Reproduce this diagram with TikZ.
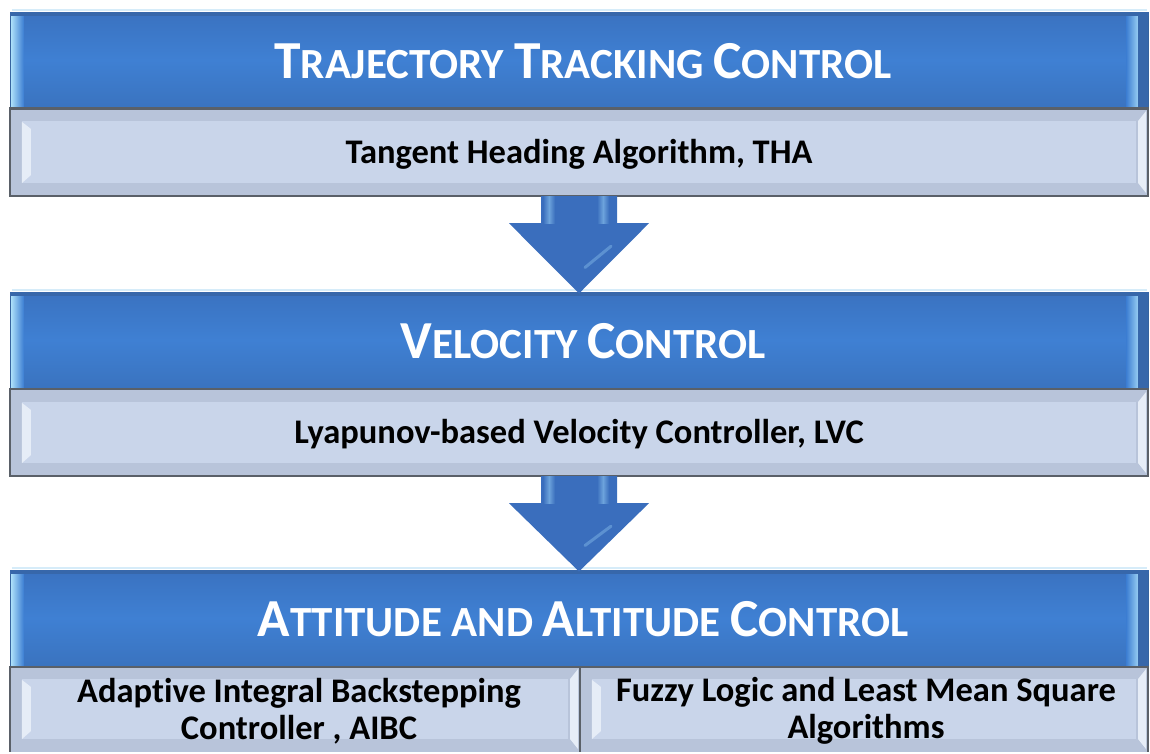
\documentclass[tikz,border=0pt]{standalone}
\usepackage{fontspec}
\setmainfont{Carlito}[Ligatures=NoCommon]
\usetikzlibrary{calc}

\definecolor{hdrtop}{HTML}{3A72C0}
\definecolor{hdrmid}{HTML}{3F80D3}
\definecolor{hdrbot}{HTML}{3A73BF}
\definecolor{hdrline}{HTML}{36649F}
\definecolor{hdrhi}{HTML}{A8DCF8}
\definecolor{hdrdark}{HTML}{3767AA}
\definecolor{subfill}{HTML}{C9D5EA}
\definecolor{subband}{HTML}{B8C4DA}
\definecolor{subline}{HTML}{5A6068}
\definecolor{subhi}{HTML}{E6EDF7}
\definecolor{arrbody}{HTML}{3A6EBD}
\definecolor{arrhi}{HTML}{8EC6F0}
\definecolor{glow}{HTML}{D6ECF9}

% small-caps style heading word: large initial, smaller rest
\newcommand\hcap[2]{{\fontsize{53.5}{54}\selectfont #1}#2}

\tikzset{
  hdr/.style={draw=hdrline, line width=1pt, top color=hdrtop, bottom color=hdrbot,
    middle color=hdrmid, minimum width=1138pt, minimum height=96pt, inner sep=0pt},
  hdrtext/.style={text=white, font=\bfseries\fontsize{43}{48}\selectfont},
  subbox/.style={fill=subfill, minimum width=1138pt, inner sep=0pt},
  subtext/.style={font=\bfseries\fontsize{34.5}{37}\selectfont, align=center, text=black},
  frame/.style={draw=subline, line width=2pt},
  arrowfill/.style={fill=arrbody}
}

% bevel decoration of a blue heading bar
\newcommand\hdrbevel[1]{%
  \shade[left color=hdrhi, right color=hdrmid]
    ($(#1.north west)+(2,3)$) rectangle ($(#1.south west)+(14,0)$);
  \shade[left color=hdrmid, right color=hdrhi!80!hdrmid]
    ($(#1.north east)+(-22,3)$) rectangle ($(#1.south east)+(-11,0)$);
  \fill[hdrdark] ($(#1.north east)+(-11,1)$) rectangle ($(#1.south east)+(-1,0)$);
  \fill[hdrdark] ($(#1.north west)+(0,0)$) rectangle ($(#1.north east)+(0,4)$);
  \draw[glow, line width=2pt] ($(#1.north west)+(2,-2)$) -- ($(#1.north east)+(-2,-2)$);
}

% bevel decoration of a grey-blue description box
\newcommand\subbevel[1]{%
  \fill[subband] ($(#1.north west)+(0,0)$) rectangle ($(#1.north east)+(0,13)$);
  \fill[subband] ($(#1.south west)+(0,-13)$) rectangle ($(#1.south east)+(0,0)$);
  \fill[subband] ($(#1.north west)+(0,0)$) rectangle ($(#1.south west)+(12,0)$);
  \fill[subband] ($(#1.north east)+(-12,0)$) rectangle ($(#1.south east)+(0,0)$);
  \fill[subhi] ($(#1.north west)+(12,14)$) -- ($(#1.north west)+(21,21)$)
    -- ($(#1.south west)+(21,-21)$) -- ($(#1.south west)+(12,-13)$) -- cycle;
  \fill[subhi] ($(#1.north east)+(-2,3)$) -- ($(#1.north east)+(-10,13)$)
    -- ($(#1.south east)+(-10,-13)$) -- ($(#1.south east)+(-2,-3)$) -- cycle;
}

% block arrow from the bottom of one box to the top of the next
\newcommand\blockarrow[2]{%
  \fill[arrowfill] let \p1=(#1.south), \p2=(#2.north) in
    (\x1-38pt,\y1) -- (\x1+38pt,\y1) -- (\x1+38pt,\y1-27pt) -- (\x1+70pt,\y1-27pt)
    -- (\x1,\y2-2pt) -- (\x1-70pt,\y1-27pt) -- (\x1-38pt,\y1-27pt) -- cycle;
  \shade[left color=arrbody, right color=arrhi!60!arrbody] let \p1=(#1.south) in
    (\x1-36pt,\y1) rectangle (\x1-30pt,\y1-27pt);
  \shade[left color=arrhi!60!arrbody, right color=arrbody] let \p1=(#1.south) in
    (\x1-30pt,\y1) rectangle (\x1-24pt,\y1-27pt);
  \shade[left color=arrbody, right color=arrhi!60!arrbody] let \p1=(#1.south) in
    (\x1+18pt,\y1) rectangle (\x1+24pt,\y1-27pt);
  \shade[left color=arrhi!60!arrbody, right color=arrbody] let \p1=(#1.south) in
    (\x1+24pt,\y1) rectangle (\x1+30pt,\y1-27pt);
  \draw[arrhi!40!arrbody, line width=3pt, line cap=round] let \p1=(#1.south), \p2=(#2.north) in
    (\x1+6pt,\y2+24pt) -- (\x1+32pt,\y1-50pt);
}

\begin{document}
\begin{tikzpicture}[x=1pt, y=-1pt]
  \useasboundingbox (0,0) rectangle (1150,753);

  % heading bars
  \node[hdr] (h1) at (579,60) {};
  \node[hdr] (h2) at (579,340) {};
  \node[hdr] (h3) at (579,618) {};
  \hdrbevel{h1}
  \hdrbevel{h2}
  \hdrbevel{h3}

  % description boxes
  \node[subbox, minimum height=88pt] (s1) at (579,152) {};
  \node[subbox, minimum height=87pt] (s2) at (579,432.5) {};
  \node[subbox, minimum width=570pt, minimum height=86pt] (s3a) at (295,709) {};
  \node[subbox, minimum width=568pt, minimum height=86pt] (s3b) at (864,709) {};
  \subbevel{s1}
  \subbevel{s2}
  \subbevel{s3a}
  \subbevel{s3b}

  % outer frames
  \draw[frame] (h1.south west) -- (h1.south east);
  \draw[frame] (s1.north west) rectangle (s1.south east);
  \draw[frame] (s2.north west) rectangle (s2.south east);
  \draw[frame] (s3a.north west) -- (s3a.south west);
  \draw[frame] (h3.south west) -- (h3.south east);
  \draw[frame] (s3a.north east) -- (s3a.south east);
  \draw[frame] (s3b.north east) -- (s3b.south east);

  % heading texts
  \node[hdrtext] (l1) at ($(h1)+(4,1)$) {\hcap{T}{RAJECTORY} \hcap{T}{RACKING} \hcap{C}{ONTROL}};
  \node[hdrtext] (l2) at ($(h2)+(4,1)$) {\hcap{V}{ELOCITY} \hcap{C}{ONTROL}};
  \node[hdrtext] (l3) at ($(h3)+(4,1)$) {\hcap{A}{TTITUDE} AND \hcap{A}{LTITUDE} \hcap{C}{ONTROL}};

  % descriptions
  \node[subtext] (t1) at ($(s1)+(0,2)$) {Tangent Heading Algorithm, THA};
  \node[subtext] (t2) at ($(s2)+(0,2)$) {Lyapunov-based Velocity Controller, LVC};
  \node[subtext] (t3a) at ($(s3a)+(4,2)$) {Adaptive Integral Backstepping\\Controller , AIBC};
  \node[subtext] (t3b) at ($(s3b)+(2,2)$) {Fuzzy Logic and Least Mean Square\\Algorithms};

  % flow arrows
  \blockarrow{s1}{h2}
  \blockarrow{s2}{h3}
\end{tikzpicture}
\end{document}
